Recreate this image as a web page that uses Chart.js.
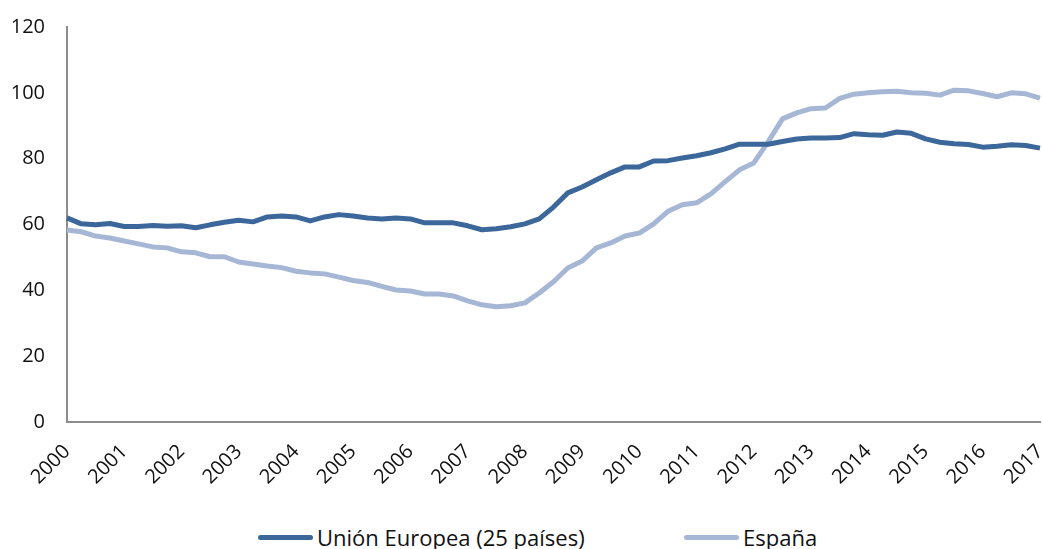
<!DOCTYPE html>
<html>
<head>
<meta charset="utf-8">
<script src="https://cdn.jsdelivr.net/npm/chart.js@4.4.1/dist/chart.umd.min.js"></script>
<style>
  body { margin: 0; background: #fff; font-family: 'Open Sans', sans-serif; }
  #wrap { position: relative; width: 1042px; height: 500px; }
  .legend { position: absolute; top: 524px; left: 0; width: 1042px; height: 26px; }
  .legend .item { position: absolute; top: 0; display: flex; align-items: center; height: 26px; font-size: 22px; color: #111; white-space: nowrap; }
  .legend .swatch { width: 55px; height: 5px; border-radius: 3px; margin-right: 4px; }
</style>
</head>
<body>
<div id="wrap"><canvas id="myChart"></canvas></div>
<div class="legend">
  <div class="item" style="left:258px"><span class="swatch" style="background:#3c679b"></span>Unión Europea (25 países)</div>
  <div class="item" style="left:684px"><span class="swatch" style="background:#a5b7d5"></span>España</div>
</div>
<script>
// Años del eje X (datos trimestrales, 2000T1 - 2017T1)
const years = ["2000", "2001", "2002", "2003", "2004", "2005", "2006", "2007", "2008",
  "2009", "2010", "2011", "2012", "2013", "2014", "2015", "2016", "2017"];

const euValues = [62.0, 60.2, 59.9, 60.3, 59.4, 59.4, 59.7, 59.5, 59.6, 59.0, 59.9, 60.7, 61.3, 60.8,
  62.3, 62.6, 62.3, 61.1, 62.3, 63.0, 62.6, 62.0, 61.7, 62.0, 61.7, 60.5, 60.5,
  60.5, 59.6, 58.4, 58.7, 59.3, 60.2, 61.7, 65.3, 69.6, 71.4, 73.6, 75.7, 77.5, 77.5,
  79.3, 79.4, 80.2, 80.9, 81.8, 83.0, 84.4, 84.4, 84.4, 85.2, 86.0,
  86.3, 86.3, 86.4, 87.6, 87.3, 87.1, 88.1, 87.7, 86.0, 85.0, 84.5, 84.3, 83.5, 83.8, 84.2, 84.0, 83.2];

const spainValues = [58.3, 57.8, 56.5, 55.9, 55.0, 54.1, 53.2, 52.9, 51.7, 51.4, 50.2, 50.2, 48.6, 48.0,
  47.4, 46.9, 45.8, 45.3, 45.0, 44.0, 43.0, 42.4, 41.2, 40.1, 39.8, 38.9, 38.9,
  38.3, 36.8, 35.6, 35.0, 35.3, 36.2, 39.2, 42.6, 46.8, 48.9, 52.9, 54.4, 56.5, 57.4,
  60.2, 64.0, 66.0, 66.6, 69.3, 73.0, 76.6, 78.7, 85.1, 92.1, 93.9,
  95.2, 95.4, 98.3, 99.6, 100.0, 100.3, 100.5, 100.0, 99.9, 99.3, 100.8, 100.6, 99.8, 98.8, 100.0, 99.7, 98.4];

// una etiqueta por trimestre, solo se muestra el año en el primer trimestre
const xLabels = euValues.map((v, i) => (i % 4 === 0 ? years[i / 4] : ""));

const axisColor = "#8c8c8c";
const tickFont = { family: "'Open Sans', sans-serif", size: 20 };

const ctx = document.getElementById('myChart');

new Chart(ctx, {
  type: "line",
  data: {
    labels: xLabels,
    datasets: [
      {
        label: "Unión Europea (25 países)",
        data: euValues,
        borderColor: "#3c679b",
        backgroundColor: "#3c679b",
        borderWidth: 5,
        pointRadius: 0,
        borderJoinStyle: "round",
        tension: 0
      },
      {
        label: "España",
        data: spainValues,
        borderColor: "#a5b7d5",
        backgroundColor: "#a5b7d5",
        borderWidth: 5,
        pointRadius: 0,
        borderJoinStyle: "round",
        tension: 0
      }
    ]
  },
  options: {
    responsive: true,
    maintainAspectRatio: false,
    animation: false,
    layout: { padding: { top: 27, right: 2, left: 0, bottom: 0 } },
    plugins: {
      legend: { display: false },
      tooltip: { enabled: false }
    },
    scales: {
      x: {
        grid: { display: false },
        border: { display: true, color: axisColor, width: 2 },
        ticks: {
          autoSkip: false,
          maxRotation: 45,
          minRotation: 45,
          padding: 10,
          color: "#111",
          font: tickFont
        },
        afterFit: (scale) => {
          scale.height = 78;
          scale.paddingLeft = 0;
          scale.paddingRight = 0;
        }
      },
      y: {
        min: 0,
        max: 120,
        grid: { display: false },
        border: { display: true, color: axisColor, width: 2 },
        ticks: {
          stepSize: 20,
          padding: 14,
          color: "#111",
          font: tickFont
        },
        afterFit: (scale) => {
          scale.width = 67;
          scale.paddingTop = 0;
          scale.paddingBottom = 0;
        }
      }
    }
  }
});
</script>
</body>
</html>
